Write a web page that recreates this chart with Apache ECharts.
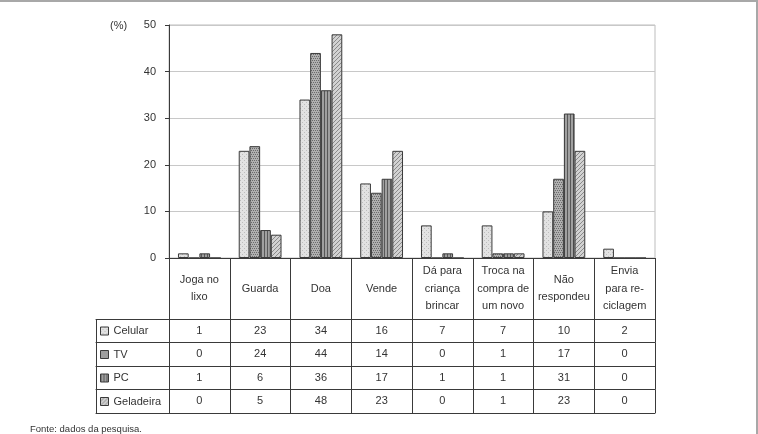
<!DOCTYPE html>
<html>
<head>
<meta charset="utf-8">
<script src="https://cdn.jsdelivr.net/npm/echarts@6/dist/echarts.min.js"></script>
<style>
html,body{margin:0;padding:0;background:#fff;}
#wrap{position:relative;width:758px;height:434px;}
#chart{width:758px;height:434px;}
#frame{position:absolute;left:0;top:0;width:758px;height:434px;box-sizing:border-box;border-top:2px solid #a8a8a8;border-right:2px solid #a8a8a8;pointer-events:none;}
</style>
</head>
<body>
<div id="wrap"><div id="chart"></div><div id="frame"></div></div>
<script>
const categories = ['Joga no\nlixo', 'Guarda', 'Doa', 'Vende', 'Dá para\ncriança\nbrincar', 'Troca na\ncompra de\num novo', 'Não\nrespondeu', 'Envia\npara re-\nciclagem'];
const seriesNames = ['Celular', 'TV', 'PC', 'Geladeira'];
const celular = [1, 23, 34, 16, 7, 7, 10, 2];
const tv = [0, 24, 44, 14, 0, 1, 17, 0];
const pc = [1, 6, 36, 17, 1, 1, 31, 0];
const geladeira = [0, 5, 48, 23, 0, 1, 23, 0];
const seriesValues = [celular, tv, pc, geladeira];
const yMin = 0, yMax = 50, yStep = 10;

const FONT = "'Liberation Sans', Arial, sans-serif";
const TXT = '#333';
const LINE = '#3a3a3a';

function makePattern(kind) {
  const c = document.createElement('canvas');
  const s = kind === 'pc' ? 3 : 4;
  c.width = s; c.height = s;
  const g = c.getContext('2d');
  if (kind === 'celular') {
    g.fillStyle = '#e2e2e2'; g.fillRect(0, 0, s, s);
    g.fillStyle = '#bdbdbd';
    g.fillRect(0, 0, 1, 1); g.fillRect(2, 2, 1, 1);
  } else if (kind === 'tv') {
    g.fillStyle = '#b0b0b0'; g.fillRect(0, 0, s, s);
    g.fillStyle = '#6a6a6a';
    g.fillRect(0, 0, 1, 1); g.fillRect(2, 0, 1, 1); g.fillRect(1, 2, 1, 1); g.fillRect(3, 2, 1, 1);
  } else if (kind === 'pc') {
    g.fillStyle = '#a0a0a0'; g.fillRect(0, 0, s, s);
    g.fillStyle = '#585858'; g.fillRect(0, 0, 1, s);
  } else {
    g.fillStyle = '#d2d2d2'; g.fillRect(0, 0, s, s);
    g.fillStyle = '#8a8a8a';
    for (let i = 0; i < s; i++) g.fillRect((s - 1 - i), i, 1, 1);
  }
  return { image: c, repeat: 'repeat' };
}
const patterns = [makePattern('celular'), makePattern('tv'), makePattern('pc'), makePattern('geladeira')];

const rowH = 23.5;
const headOff = 61;

const xAxes = [];
// header axis (used by bars)
xAxes.push({
  type: 'category', gridIndex: 0, data: categories, position: 'bottom',
  axisLine: { show: true, onZero: false, lineStyle: { color: LINE, width: 1 } },
  axisTick: { show: true, interval: 0, length: headOff, lineStyle: { color: LINE } },
  axisLabel: { interval: 0, color: TXT, fontSize: 11, fontFamily: FONT, lineHeight: 17.5, margin: headOff / 2, verticalAlign: 'middle' }
});
// value rows
seriesValues.forEach(function (vals, i) {
  xAxes.push({
    type: 'category', gridIndex: 0, data: categories, position: 'bottom', offset: headOff + rowH * i,
    axisLine: { show: true, onZero: false, lineStyle: { color: LINE, width: 1 } },
    axisTick: { show: true, interval: 0, length: rowH, lineStyle: { color: LINE } },
    axisLabel: { interval: 0, color: TXT, fontSize: 11, fontFamily: FONT, margin: rowH / 2, verticalAlign: 'middle',
      formatter: function (v, idx) { return String(vals[idx]); } }
  });
});
// closing bottom line
xAxes.push({
  type: 'category', gridIndex: 0, data: categories, position: 'bottom', offset: headOff + rowH * 4,
  axisLine: { show: true, onZero: false, lineStyle: { color: LINE, width: 1 } },
  axisTick: { show: false }, axisLabel: { show: false }
});
// legend column (grid 1)
for (let i = 0; i <= 4; i++) {
  xAxes.push({
    type: 'category', gridIndex: 1, data: [''], position: 'bottom', offset: headOff + rowH * i,
    axisLine: { show: true, onZero: false, lineStyle: { color: LINE, width: 1 } },
    axisTick: { show: i < 4, interval: 0, length: rowH, lineStyle: { color: LINE } },
    axisLabel: { show: false }
  });
}

const series = seriesNames.map(function (name, i) {
  return {
    name: name, type: 'bar', xAxisIndex: 0, yAxisIndex: 0,
    data: seriesValues[i],
    barWidth: 10.7, barGap: '0%',
    itemStyle: { color: patterns[i], borderColor: '#3a3a3a', borderWidth: 1 },
    emphasis: { disabled: true }
  };
});

const chart = echarts.init(document.getElementById('chart'), null, { renderer: 'canvas' });
chart.setOption({
  animation: false,
  backgroundColor: '#fff',
  textStyle: { fontFamily: FONT },
  title: [
    { text: '(%)', left: 110, top: 20, padding: 0, textStyle: { fontSize: 11, fontWeight: 'normal', color: TXT, fontFamily: FONT } },
    { text: 'Fonte: dados da pesquisa.', left: 30, top: 424, padding: 0, textStyle: { fontSize: 9.5, fontWeight: 'normal', color: TXT, fontFamily: FONT } }
  ],
  legend: {
    orient: 'vertical', left: 100, top: 324.5, padding: 0,
    itemWidth: 8, itemHeight: 8, itemGap: rowH - 13, icon: 'rect',
    data: seriesNames,
    selectedMode: false,
    textStyle: { fontSize: 11, color: TXT, fontFamily: FONT, lineHeight: 13 },
    itemStyle: { borderColor: '#3a3a3a', borderWidth: 1 }
  },
  grid: [
    { left: 169, right: 103, top: 25, bottom: 176, show: true, borderColor: '#bdbdbd', borderWidth: 1, containLabel: false },
    { left: 96, width: 73, top: 25, bottom: 176, show: false, containLabel: false }
  ],
  xAxis: xAxes,
  yAxis: [
    {
      type: 'value', gridIndex: 0, min: yMin, max: yMax, interval: yStep,
      axisLine: { show: true, onZero: false, lineStyle: { color: LINE } },
      axisTick: { show: true, length: 4, lineStyle: { color: LINE } },
      axisLabel: { color: TXT, fontSize: 11, fontFamily: FONT, margin: 13 },
      splitLine: { show: true, lineStyle: { color: '#c8c8c8', width: 1 } }
    },
    { type: 'value', gridIndex: 1, show: false, min: 0, max: 1 }
  ],
  series: series
});
</script>
</body>
</html>
